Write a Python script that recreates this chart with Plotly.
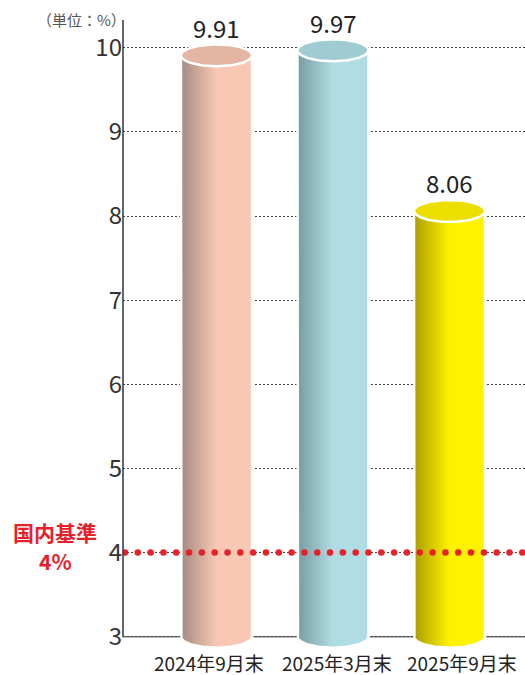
import numpy as np
import plotly.graph_objects as go

categories = ["2024年9月末", "2025年3月末", "2025年9月末"]
values = [9.91, 9.97, 8.06]
threshold = 4
y_ticks = [3, 4, 5, 6, 7, 8, 9, 10]
unit_label = "（単位：%）"
threshold_label = ["国内基準", "4%"]

body_dark = ["#a38a80", "#789ba0", "#ab9d00"]
body_light = ["#f8c8b4", "#b0dde3", "#fff200"]
top_colors = ["#e5b5a3", "#9fcbd3", "#ecdf00"]
label_shift = [-8, 4, 12]   # horizontal label offsets (px)

FONT = "Noto Sans CJK JP"
BASE = 3
X_RANGE = [-0.8026, 2.648]
Y_RANGE = [2.842, 10.33]
HW = 0.305   # half bar width in category units
RY = 0.13    # ellipse vertical semi-axis in value units

fig = go.Figure()

t_bot = np.linspace(np.pi, 2 * np.pi, 60)
t_full = np.linspace(0, 2 * np.pi, 120)

for i, (v, dk, lt, tc) in enumerate(zip(values, body_dark, body_light, top_colors)):
    xs = [i - HW, i - HW] + list(i + HW * np.cos(t_bot)) + [i + HW, i - HW]
    ys = [v, BASE] + list(BASE + RY * np.sin(t_bot)) + [v, v]
    fig.add_trace(go.Scatter(
        x=xs, y=ys, mode="lines", fill="toself",
        line=dict(color="white", width=2.5),
        fillgradient=dict(type="horizontal",
                          colorscale=[[0, dk], [0.5, lt], [1, lt]]),
        hoverinfo="skip", showlegend=False))
    fig.add_trace(go.Scatter(
        x=list(i + HW * np.cos(t_full)), y=list(v + RY * np.sin(t_full)),
        mode="lines", fill="toself", fillcolor=tc,
        line=dict(color="white", width=2.5),
        hoverinfo="skip", showlegend=False))
    fig.add_annotation(x=i, y=v, text=f"{v:.2f}", showarrow=False,
                       yshift=28, yanchor="middle",
                       font=dict(family=FONT, size=24, color="#222222"))
    fig.add_annotation(x=i, xref="x", y=0, yref="paper", text=categories[i],
                       showarrow=False, xshift=label_shift[i], yshift=-12,
                       xanchor="center", yanchor="middle",
                       font=dict(family=FONT, size=19, color="#222222"))

# red dotted threshold line
dot_x = np.linspace(X_RANGE[0] + 0.017, X_RANGE[1] - 0.023, 32)
fig.add_trace(go.Scatter(
    x=dot_x, y=[threshold] * len(dot_x), mode="markers",
    marker=dict(color="#e8202a", size=6.5),
    hoverinfo="skip", showlegend=False))

# baseline and y axis line
fig.add_shape(type="line", xref="paper", x0=0, x1=1, y0=BASE, y1=BASE,
              line=dict(color="#777777", width=1.5), layer="below")
fig.add_shape(type="line", xref="paper", x0=0, x1=0, y0=BASE, y1=Y_RANGE[1],
              line=dict(color="#333333", width=1.5))

fig.add_annotation(xref="paper", yref="paper", x=-0.006, y=1.0, xshift=7, yshift=1,
                   xanchor="right", yanchor="middle", text=unit_label,
                   showarrow=False, font=dict(family=FONT, size=15, color="#555555"))
fig.add_annotation(xref="paper", yref="y", x=-0.169, y=threshold, yshift=21,
                   xanchor="center", yanchor="middle", text=threshold_label[0],
                   showarrow=False,
                   font=dict(family=FONT, size=21, color="#e8202a", weight="bold"))
fig.add_annotation(xref="paper", yref="y", x=-0.169, y=threshold, yshift=-8,
                   xanchor="center", yanchor="middle", text=threshold_label[1],
                   showarrow=False,
                   font=dict(family=FONT, size=21, color="#e8202a", weight="bold"))

fig.update_layout(
    width=525, height=675, autosize=False,
    margin=dict(l=123, r=0, t=20, b=25),
    plot_bgcolor="white", paper_bgcolor="white",
    xaxis=dict(range=X_RANGE, showticklabels=False,
               showgrid=False, zeroline=False, showline=False, ticks="",
               fixedrange=True),
    yaxis=dict(range=Y_RANGE, tickvals=y_ticks, ticktext=[str(t) for t in y_ticks],
               showgrid=True, gridcolor="#444444", gridwidth=1, griddash="2px,2px",
               zeroline=False, showline=False, ticks="",
               tickfont=dict(family=FONT, size=24, color="#333333"),
               fixedrange=True),
)

fig.write_html("out.html", config={"displayModeBar": False},
               post_script="document.body.style.margin='0';")
